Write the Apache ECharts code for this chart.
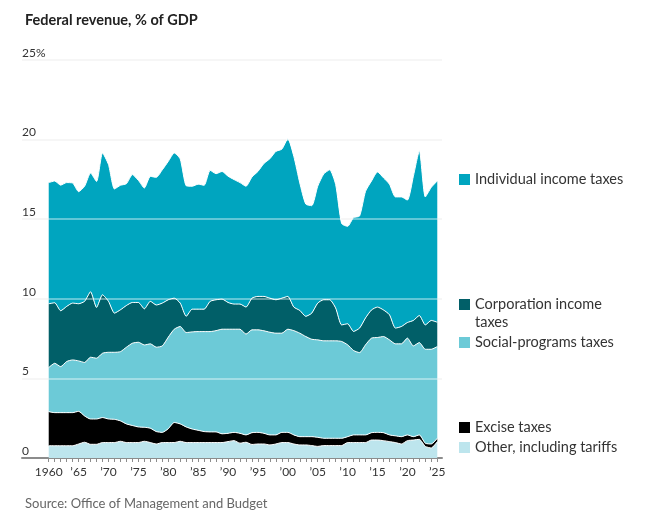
<!DOCTYPE html>
<html>
<head>
<meta charset="utf-8">
<script src="https://cdn.jsdelivr.net/npm/echarts@6/dist/echarts.min.js"></script>
<style>
  html, body { margin: 0; padding: 0; background: #fff; }
  #chart { width: 652px; height: 514px; }
</style>
</head>
<body>
<div id="chart"></div>
<script>
// 年份 1960-2025
var years = [];
for (var y = 1960; y <= 2025; y++) years.push(y);

var tickYears = [1960, 1965, 1970, 1975, 1980, 1985, 1990, 1995, 2000, 2005, 2010, 2015, 2020, 2025];
var yTicks = [0, 5, 10, 15, 20, 25];

// 各项收入占 GDP 百分比
var other = [0.77,0.77,0.77,0.77,0.77,0.88,0.99,0.86,0.86,0.97,
  0.97,0.97,1.05,0.97,0.97,0.97,1.05,0.97,0.88,0.97,
  0.97,0.97,1.05,0.97,0.97,0.97,0.97,0.97,0.97,0.97,
  1.03,1.09,0.93,0.99,0.85,0.88,0.88,0.82,0.88,0.97,
  0.97,0.88,0.82,0.82,0.78,0.73,0.78,0.78,0.78,0.78,
  0.97,0.97,0.97,0.97,1.13,1.13,1.09,1.03,0.97,0.88,
  1.09,1.13,1.17,0.73,0.63,1.03];

var excise = [2.14,2.08,2.08,2.08,2.08,2.05,1.65,1.59,1.59,1.57,
  1.48,1.46,1.28,1.17,1.07,0.98,0.88,0.90,0.78,0.64,
  0.87,1.26,1.09,0.98,0.85,0.77,0.69,0.67,0.67,0.55,
  0.52,0.52,0.62,0.46,0.74,0.73,0.67,0.63,0.57,0.64,
  0.64,0.57,0.52,0.52,0.56,0.57,0.46,0.46,0.46,0.46,
  0.37,0.48,0.48,0.48,0.46,0.48,0.50,0.42,0.42,0.46,
  0.36,0.21,0.28,0.20,0.25,0.21];

var social = [2.77,3.10,2.89,3.21,3.31,3.17,3.36,3.88,3.82,4.04,
  4.19,4.21,4.35,4.82,5.17,5.32,5.17,5.30,5.30,5.43,
  5.75,5.86,6.12,5.93,6.10,6.20,6.28,6.30,6.36,6.57,
  6.54,6.48,6.54,6.33,6.46,6.44,6.44,6.45,6.39,6.23,
  6.48,6.55,6.50,6.29,6.12,6.12,6.12,6.12,6.12,6.08,
  5.77,5.30,5.17,5.66,5.94,5.96,6.04,5.97,5.78,5.83,
  6.08,5.70,5.80,5.90,5.95,5.76];

var corp = [4.01,3.80,3.51,3.46,3.57,3.59,3.84,4.11,3.19,3.67,
  3.20,2.46,2.63,2.62,2.56,2.50,2.27,2.67,2.65,2.69,
  2.35,1.95,1.47,1.02,1.43,1.41,1.41,1.90,1.94,1.89,
  1.68,1.58,1.58,1.70,1.99,2.10,2.16,2.14,2.10,2.20,
  2.06,1.48,1.43,1.27,1.64,2.31,2.58,2.58,2.06,1.04,
  1.32,1.20,1.54,1.69,1.77,1.91,1.67,1.58,0.99,1.09,
  0.98,1.60,1.70,1.53,1.81,1.53];

var individual = [7.61,7.65,7.89,7.78,7.54,7.04,7.23,7.46,7.91,8.91,
  8.59,7.80,7.82,7.65,8.03,7.67,7.59,7.85,8.02,8.37,
  8.69,9.12,9.05,8.20,7.72,7.85,7.78,8.23,7.92,8.02,
  7.93,7.82,7.63,7.59,7.61,7.85,8.35,8.76,9.32,9.36,
  9.91,9.47,8.01,7.05,6.75,7.34,7.90,8.16,7.76,6.37,
  6.12,7.15,7.04,7.95,8.10,8.49,8.30,8.20,8.24,8.14,
  7.69,9.06,10.35,8.04,8.36,8.87];

var names = ['Other, including tariffs', 'Excise taxes', 'Social-programs taxes', 'Corporation income taxes', 'Individual income taxes'];
var colors = ['#bde5ed', '#000000', '#6ccad7', '#015f68', '#00a5bf'];
var values = [other, excise, social, corp, individual];

var font = 'Lato, "Noto Sans", sans-serif';

// 值放在第 0 维，年份在第 1 维，这样 stack 叠加的是 y
function pairs(arr) {
  return years.map(function (yr, i) { return [arr[i], yr]; });
}

var series = values.map(function (arr, k) {
  var s = {
    name: names[k],
    type: 'line',
    stack: 'total',
    data: pairs(arr),
    encode: { x: 1, y: 0 },
    symbol: 'none',
    smooth: 0.2,
    lineStyle: { color: '#fff', width: 1 },
    itemStyle: { color: colors[k] },
    areaStyle: { color: colors[k], opacity: 1 },
    emphasis: { disabled: true }
  };
  if (k === values.length - 1) {
    // 网格线画在面积图上面
    s.markLine = {
      silent: true,
      symbol: 'none',
      label: { show: false },
      lineStyle: { color: 'rgba(255,255,255,0.5)', width: 1.5, type: 'solid' },
      data: yTicks.slice(1).map(function (v) { return { yAxis: v }; })
    };
  }
  return s;
});

function legendAt(name, top) {
  return {
    data: [name],
    left: 454,
    top: top,
    orient: 'vertical',
    selectedMode: false,
    icon: 'rect',
    itemWidth: 11,
    itemHeight: 11,
    textStyle: { fontFamily: font, fontSize: 14.5, color: '#333' },
    formatter: function (n) { return n === 'Corporation income taxes' ? 'Corporation income' : n; }
  };
}

var chart = echarts.init(document.getElementById('chart'));

chart.setOption({
  animation: false,
  textStyle: { fontFamily: font },
  title: [
    {
      text: 'Federal revenue, % of GDP',
      left: 20, top: 8,
      textStyle: { fontFamily: font, fontSize: 14.5, fontWeight: 'bold', color: '#222' }
    },
    {
      text: 'Source: Office of Management and Budget',
      left: 20, top: 492,
      textStyle: { fontFamily: font, fontSize: 13, fontWeight: 'normal', color: '#666' }
    },
    {
      text: 'taxes',
      left: 470, top: 310,
      textStyle: { fontFamily: font, fontSize: 14.5, fontWeight: 'normal', color: '#333' }
    }
  ],
  legend: [
    legendAt('Individual income taxes', 167),
    legendAt('Corporation income taxes', 292),
    legendAt('Social-programs taxes', 330),
    legendAt('Excise taxes', 415),
    legendAt('Other, including tariffs', 435)
  ],
  grid: { left: 22, right: 210, top: 60, bottom: 56, containLabel: false },
  xAxis: {
    type: 'value',
    min: 1955.53,
    max: 2025.79,
    splitLine: { show: false },
    axisLine: { show: true, lineStyle: { color: '#8c8c8c', width: 2 } },
    axisTick: { show: true, customValues: years, length: 4, lineStyle: { color: '#8c8c8c', width: 1 } },
    axisLabel: {
      customValues: tickYears,
      margin: 8,
      fontFamily: font,
      fontSize: 12,
      color: '#333',
      formatter: function (v) { return v === 1960 ? '1960' : '\u2019' + String(v).slice(2); }
    }
  },
  yAxis: {
    type: 'value',
    min: 0,
    max: 25,
    interval: 5,
    axisLine: { show: false },
    axisTick: { show: false },
    splitLine: { show: true, lineStyle: { color: '#ececec', width: 1.5 } },
    axisLabel: {
      inside: true,
      margin: 0,
      verticalAlign: 'bottom',
      padding: [0, 0, 1, 0],
      fontFamily: font,
      fontSize: 12,
      color: '#333',
      formatter: function (v) { return v === 25 ? '25%' : String(v); }
    }
  },
  series: series
});
</script>
</body>
</html>
